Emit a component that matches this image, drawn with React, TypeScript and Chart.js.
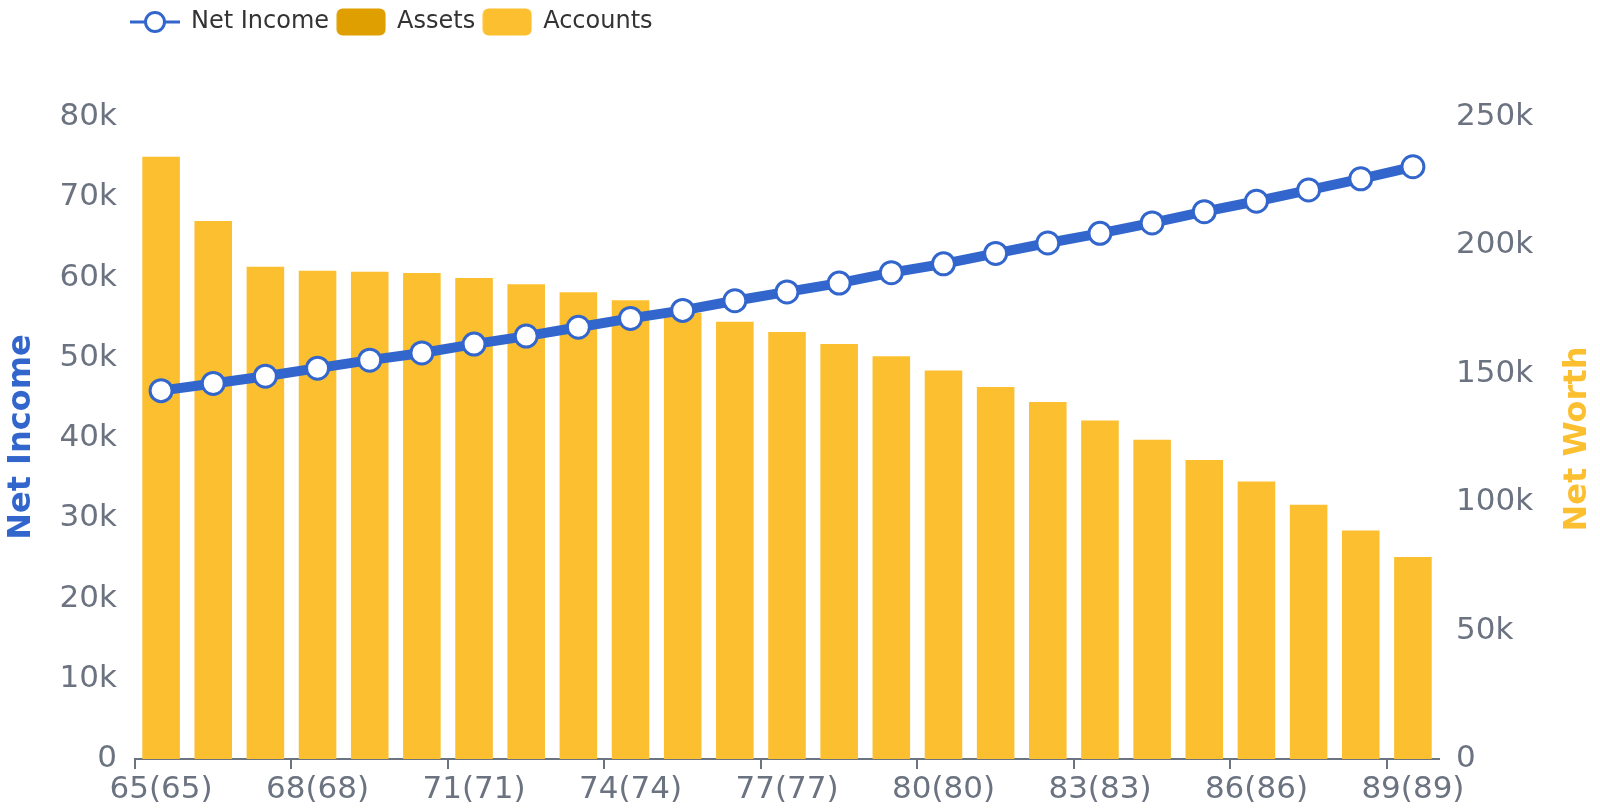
import React, { useEffect, useRef } from "react";
import { Chart, registerables } from "chart.js";

Chart.register(...registerables);

const ages = [65, 66, 67, 68, 69, 70, 71, 72, 73, 74, 75, 76, 77, 78, 79, 80, 81, 82, 83, 84, 85, 86, 87, 88, 89];
const categories = ages.map((a) => `${a}(${a})`);
const netIncome = [45900, 46800, 47700, 48700, 49700, 50600, 51700, 52700, 53800, 54900, 55900, 57100, 58200, 59300, 60600, 61700, 63000, 64300, 65500, 66800, 68200, 69500, 70900, 72300, 73800];
const assets = [0, 0, 0, 0, 0, 0, 0, 0, 0, 0, 0, 0, 0, 0, 0, 0, 0, 0, 0, 0, 0, 0, 0, 0, 0];
const accounts = [234500, 209500, 191700, 190100, 189700, 189300, 187300, 184900, 181800, 178600, 173800, 170300, 166300, 161600, 156800, 151300, 144900, 139000, 131800, 124300, 116400, 108100, 99000, 89000, 78700];
const leftTicksMax = 80000;
const rightTicksMax = 250000;

const BLUE = "#3366cc";
const YELLOW = "#fbbf2f";
const DARK_YELLOW = "#e09f00";
const GRAY = "#6b7280";
const FONT = "'DejaVu Sans', sans-serif";

function makeLineIcon() {
  const c = document.createElement("canvas");
  c.width = 50;
  c.height = 26;
  const ctx = c.getContext("2d")!;
  ctx.strokeStyle = BLUE;
  ctx.lineWidth = 3;
  ctx.beginPath();
  ctx.moveTo(0, 13);
  ctx.lineTo(50, 13);
  ctx.stroke();
  ctx.beginPath();
  ctx.arc(25, 13, 9.5, 0, Math.PI * 2);
  ctx.fillStyle = "#fff";
  ctx.fill();
  ctx.stroke();
  return c;
}

function makeBoxIcon(color: string) {
  const c = document.createElement("canvas");
  c.width = 50;
  c.height = 28;
  const ctx = c.getContext("2d")!;
  ctx.fillStyle = color;
  ctx.beginPath();
  (ctx as any).roundRect(0.5, 0.5, 49, 27, 6);
  ctx.fill();
  return c;
}

const kFmt = (v: any) => (Number(v) === 0 ? "0" : `${Number(v) / 1000}k`);

export default function App() {
  const ref = useRef<HTMLCanvasElement>(null);

  useEffect(() => {
    if (!ref.current) return;
    Chart.defaults.font.family = FONT;
    const icons = [makeLineIcon(), makeBoxIcon(DARK_YELLOW), makeBoxIcon(YELLOW)];

    const customPlugin = {
      id: "custom",
      afterInit(chart: any) {
        const lg = chart.legend;
        if (lg) {
          const orig = lg.fit;
          lg.fit = function () {
            orig.call(this);
            this.height = 117;
          };
        }
      },
      afterLayout(chart: any) {
        if (chart.legend) {
          chart.legend.left = 123;
          chart.legend.top = 2;
        }
      },
      afterDraw(chart: any) {
        const ctx = chart.ctx;
        ctx.save();
        ctx.font = `bold 32px ${FONT}`;
        ctx.textAlign = "center";
        ctx.textBaseline = "middle";
        ctx.fillStyle = BLUE;
        ctx.translate(22, 437);
        ctx.rotate(-Math.PI / 2);
        ctx.fillText("Net Income", 0, 0);
        ctx.restore();
        ctx.save();
        ctx.font = `bold 32px ${FONT}`;
        ctx.textAlign = "center";
        ctx.textBaseline = "middle";
        ctx.fillStyle = YELLOW;
        ctx.translate(1578, 439);
        ctx.rotate(-Math.PI / 2);
        ctx.fillText("Net Worth", 0, 0);
        ctx.restore();
      },
    };

    const chart = new Chart(ref.current, {
      type: "bar",
      data: {
        labels: categories,
        datasets: [
          {
            type: "line",
            label: "Net Income",
            data: netIncome,
            yAxisID: "y",
            order: 0,
            borderColor: BLUE,
            borderWidth: 10,
            backgroundColor: "#fff",
            pointRadius: 11,
            pointBorderWidth: 3,
            pointBackgroundColor: "#fff",
            pointBorderColor: BLUE,
            pointStyle: "circle",
            tension: 0,
          } as any,
          {
            type: "bar",
            label: "Assets",
            data: assets,
            yAxisID: "y1",
            order: 1,
            stack: "nw",
            backgroundColor: DARK_YELLOW,
          } as any,
          {
            type: "bar",
            label: "Accounts",
            data: accounts,
            yAxisID: "y1",
            order: 2,
            stack: "nw",
            backgroundColor: YELLOW,
          } as any,
        ],
      },
      options: {
        animation: false,
        responsive: true,
        maintainAspectRatio: false,
        layout: { padding: 0 },
        plugins: {
          tooltip: { enabled: false },
          legend: {
            position: "top",
            align: "start",
            labels: {
              usePointStyle: true,
              pointStyleWidth: 48,
              padding: 8,
              color: "#333",
              font: { size: 24, family: FONT },
              generateLabels: (ch: any) =>
                ch.data.datasets.map((ds: any, i: number) => ({
                  text: ds.label,
                  pointStyle: icons[i],
                  datasetIndex: i,
                  fontColor: "#333",
                  hidden: false,
                  lineWidth: 0,
                })),
            },
          },
        },
        scales: {
          x: {
            stacked: true,
            offset: true,
            afterFit: (s: any) => {
              s.height = 53;
            },
            grid: {
              offset: true,
              drawOnChartArea: false,
              drawTicks: true,
              tickLength: 10,
              color: (c: any) => (c.index % 3 === 0 || c.index >= categories.length ? GRAY : "rgba(0,0,0,0)"),
              lineWidth: 2,
            },
            border: { display: true, color: GRAY, width: 2 },
            ticks: {
              autoSkip: false,
              maxRotation: 0,
              minRotation: 0,
              padding: 2,
              color: GRAY,
              font: { size: 31 },
              callback: function (this: any, _v: any, i: number) {
                return i % 3 === 0 ? categories[i] : "";
              } as any,
            },
          },
          y: {
            position: "left",
            min: 0,
            max: leftTicksMax,
            afterFit: (s: any) => {
              s.width = 135;
            },
            grid: { display: false, drawTicks: false },
            border: { display: false },
            ticks: {
              stepSize: 10000,
              padding: 18,
              color: GRAY,
              font: { size: 31 },
              callback: kFmt,
            },
          },
          y1: {
            position: "right",
            stacked: true,
            min: 0,
            max: rightTicksMax,
            afterFit: (s: any) => {
              s.width = 161;
            },
            grid: { display: false, drawTicks: false },
            border: { display: false },
            ticks: {
              stepSize: 50000,
              padding: 17,
              color: GRAY,
              font: { size: 31 },
              callback: kFmt,
            },
          },
        },
      },
      plugins: [customPlugin],
    });

    return () => chart.destroy();
  }, []);

  return (
    <div style={{ position: "absolute", left: 0, top: 0, width: 1600, height: 812, background: "#fff" }}>
      <canvas ref={ref} />
    </div>
  );
}
